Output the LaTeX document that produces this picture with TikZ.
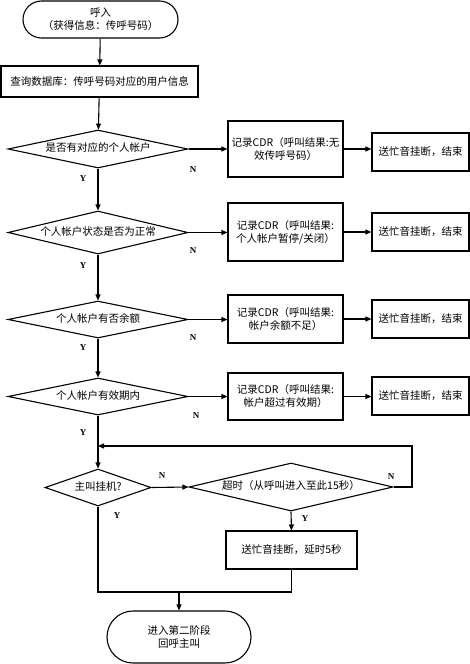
\documentclass[tikz,border=0pt]{standalone}
\usepackage{fontspec}
\setmainfont{Noto Sans CJK SC}
\newfontfamily\ynfont{Liberation Serif}
\usetikzlibrary{shapes.geometric,arrows.meta}
\begin{document}
\begin{tikzpicture}[x=1pt,y=-1pt, line width=1.1pt,
  >={Triangle[length=6pt,width=5pt]},
  box/.style={draw, rectangle, inner sep=1pt, align=center, font=\fontsize{10.5pt}{13pt}\selectfont},
  term/.style={box, rounded corners=#1},
  dec/.style={draw, diamond, inner sep=0pt, align=center, text height=7pt, text depth=2pt, font=\fontsize{10.5pt}{13pt}\selectfont},
  lab/.style={font=\ynfont\bfseries\fontsize{9pt}{9pt}\selectfont, inner sep=0pt}]
\useasboundingbox (0,0) rectangle (470,664);

\node[term=18.5pt, minimum width=155pt, minimum height=37pt] (start) at (100.5,19.5) {呼入\\（获得信息：传呼号码）};
\node[box, minimum width=197pt, minimum height=31pt] (query) at (99.5,81.5) {查询数据库：传呼号码对应的用户信息};

\node[dec, aspect=4.74, minimum width=180pt, minimum height=38pt] (d1) at (98,149) {是否有对应的个人帐户};
\node[dec, aspect=4.19, minimum width=180pt, minimum height=43pt] (d2) at (98,232.5) {个人帐户状态是否为正常};
\node[dec, aspect=4.86, minimum width=180pt, minimum height=37pt] (d3) at (98,319.5) {个人帐户有否余额};
\node[dec, aspect=4.86, minimum width=180pt, minimum height=37pt] (d4) at (98,396.5) {个人帐户有效期内};

\node[box, minimum width=115pt, minimum height=56pt] (c1) at (285.5,149) {记录CDR（呼叫结果:无\\效传呼号码）};
\node[box, minimum width=115pt, minimum height=58pt] (c2) at (285.5,232) {记录CDR（呼叫结果:\\个人帐户暂停/关闭）};
\node[box, minimum width=115pt, minimum height=48pt] (c3) at (285.5,319) {记录CDR（呼叫结果:\\帐户余额不足）};
\node[box, minimum width=115pt, minimum height=47pt] (c4) at (285.5,396.5) {记录CDR（呼叫结果:\\帐户超过有效期）};

\node[box, minimum width=97pt, minimum height=38pt] (e1) at (420.5,152) {送忙音挂断，结束};
\node[box, minimum width=97pt, minimum height=38pt] (e2) at (420.5,232) {送忙音挂断，结束};
\node[box, minimum width=97pt, minimum height=38pt] (e3) at (420.5,319) {送忙音挂断，结束};
\node[box, minimum width=97pt, minimum height=38pt] (e4) at (420.5,396) {送忙音挂断，结束};

\node[dec, aspect=2.86, minimum width=106pt, minimum height=37pt] (d5) at (98,487.5) {主叫挂机?};
\node[dec, aspect=4.25, minimum width=204pt, minimum height=48pt] (d6) at (291,487) {超时（从呼叫进入至此15秒）};
\node[box, minimum width=131pt, minimum height=38pt] (delay) at (291.5,550) {送忙音挂断，延时5秒};
\node[term=26pt, minimum width=144pt, minimum height=52pt] (end) at (179,637) {进入第二阶段\\回呼主叫};

\coordinate (loopR) at (412,446);
\coordinate (join) at (179,592);

\draw[->] (start) -- (query);
\draw[->] (query) -- (d1);
\draw[->] (d1) -- (d2);
\draw[->] (d2) -- (d3);
\draw[->] (d3) -- (d4);
\draw[->] (d4) -- (d5);

\draw[->] (d1.east) -- (c1.west |- d1.east);
\draw[->] (d2.east) -- (c2.west |- d2.east);
\draw[->] (d3.east) -- (c3.west |- d3.east);
\draw[->] (d4.east) -- (c4.west |- d4.east);
\draw[->] (c1.east) -- (c1.east -| e1.west);
\draw[->] (c2.east) -- (c2.east -| e2.west);
\draw[->] (c3.east) -- (c3.east -| e3.west);
\draw[->] (c4.east) -- (c4.east -| e4.west);

\draw[->] (d5.east) -- (d6.west);
\draw[->] (d6.east) -| (loopR) -- (loopR -| d4.south);
\draw[->] (d6.south) -- (delay.north);
\draw (d5.south) |- (delay.south |- join) -- (delay.south);
\draw[->] (join) -- (end.north);

\node[lab] (y1) at (83,179) {Y};
\node[lab] (y2) at (83,266) {Y};
\node[lab] (y3) at (83,348) {Y};
\node[lab] (y4) at (83,433) {Y};
\node[lab] (y5) at (117,516) {Y};
\node[lab] (y6) at (305,519) {Y};
\node[lab] (n1) at (193,170) {N};
\node[lab] (n2) at (193,251) {N};
\node[lab] (n3) at (193,338) {N};
\node[lab] (n4) at (196,416) {N};
\node[lab] (n5) at (162,476) {N};
\node[lab] (n6) at (391,477) {N};
\end{tikzpicture}
\end{document}
